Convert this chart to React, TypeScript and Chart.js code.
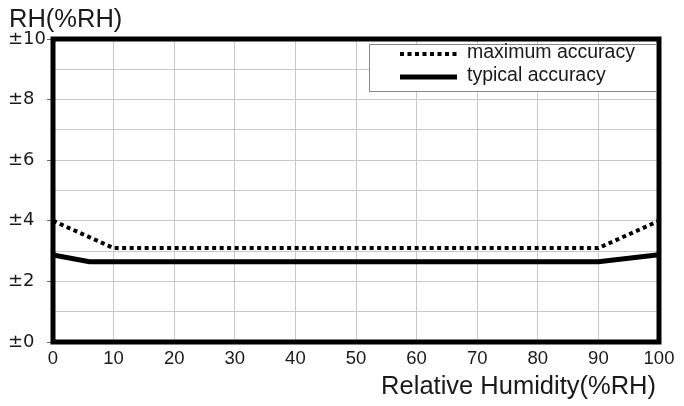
import React, { useEffect, useRef } from "react";
import { Chart, registerables } from "chart.js";

Chart.register(...registerables);

const maxAccX = [0, 10, 90, 100];
const maxAccY = [4.0, 3.1, 3.1, 4.0];
const typAccX = [0, 6, 90, 100];
const typAccY = [2.87, 2.65, 2.65, 2.88];
const seriesNames = ["maximum accuracy", "typical accuracy"];
const yTitle = "RH(%RH)";
const xTitle = "Relative Humidity(%RH)";

const FONT = "'Liberation Sans', Arial, sans-serif";

const framePlugin = {
  id: "frame",
  afterDraw(chart: any) {
    const { ctx, chartArea } = chart;
    const { left, top, right, bottom } = chartArea;
    ctx.save();
    // plot frame
    ctx.strokeStyle = "#000";
    ctx.lineWidth = 5;
    ctx.strokeRect(left, top, right - left, bottom - top);
    // titles
    ctx.fillStyle = "#1a1a1a";
    ctx.font = `25.5px ${FONT}`;
    ctx.textAlign = "left";
    ctx.textBaseline = "alphabetic";
    ctx.fillText(yTitle, 9, 27);
    ctx.font = `25.5px ${FONT}`;
    ctx.textAlign = "right";
    ctx.fillText(xTitle, 656, 394);
    // legend
    const bx = 369, by = 44, bw = 287, bh = 47;
    ctx.fillStyle = "#fff";
    ctx.fillRect(bx, by, bw, bh);
    ctx.strokeStyle = "#888";
    ctx.lineWidth = 1;
    ctx.strokeRect(bx + 0.5, by + 0.5, bw, bh);
    const rows = [54, 77];
    chart.data.datasets.forEach((ds: any, i: number) => {
      const y = rows[i];
      ctx.beginPath();
      ctx.strokeStyle = ds.borderColor;
      ctx.lineWidth = ds.borderWidth;
      ctx.setLineDash(ds.borderDash || []);
      ctx.moveTo(400, y);
      ctx.lineTo(457, y);
      ctx.stroke();
      ctx.setLineDash([]);
      ctx.fillStyle = "#1a1a1a";
      ctx.font = `19.5px ${FONT}`;
      ctx.textAlign = "left";
      ctx.textBaseline = "middle";
      ctx.fillText(ds.label, 467, y - 1);
    });
    ctx.restore();
  },
};

export default function App() {
  const ref = useRef<HTMLCanvasElement>(null);
  useEffect(() => {
    if (!ref.current) return;
    const chart = new Chart(ref.current, {
      type: "line",
      data: {
        datasets: [
          {
            label: seriesNames[0],
            data: maxAccX.map((x, i) => ({ x, y: maxAccY[i] })),
            borderColor: "#000",
            borderWidth: 4,
            borderDash: [4, 3.5],
            pointRadius: 0,
            tension: 0,
          },
          {
            label: seriesNames[1],
            data: typAccX.map((x, i) => ({ x, y: typAccY[i] })),
            borderColor: "#000",
            borderWidth: 5,
            pointRadius: 0,
            tension: 0,
          },
        ],
      },
      options: {
        animation: false,
        responsive: false,
        layout: { padding: { left: 8, top: 39, right: 25, bottom: 0 } },
        plugins: { legend: { display: false }, tooltip: { enabled: false } },
        scales: {
          x: {
            type: "linear",
            min: 0,
            max: 100,
            border: { display: false },
            grid: { color: "#c8c8c8", lineWidth: 1, drawTicks: false },
            ticks: {
              stepSize: 10,
              padding: 6,
              color: "#1a1a1a",
              font: { family: FONT, size: 18.5 },
            },
            afterFit: (s: any) => {
              s.height = 64;
            },
          },
          y: {
            min: 0,
            max: 10,
            border: { display: false },
            grid: {
              color: "#c8c8c8",
              lineWidth: 1,
              tickLength: 6,
              tickColor: (c: any) =>
                c.tick && c.tick.value % 2 === 0 ? "#666" : "rgba(0,0,0,0)",
            },
            ticks: {
              stepSize: 1,
              autoSkip: false,
              crossAlign: "far",
              padding: 0,
              color: "#1a1a1a",
              font: { family: "'DejaVu Sans', sans-serif", size: 18 },
              callback: (v: any) => (Number(v) % 2 === 0 ? "\u00B1" + v : ""),
            },
            afterFit: (s: any) => {
              s.width = 45;
            },
          },
        },
      },
      plugins: [framePlugin],
    });
    return () => chart.destroy();
  }, []);
  return (
    <div style={{ position: "absolute", left: 0, top: 0, width: 684, height: 406, background: "#fff" }}>
      <canvas ref={ref} width={684} height={406} style={{ display: "block" }} />
    </div>
  );
}
